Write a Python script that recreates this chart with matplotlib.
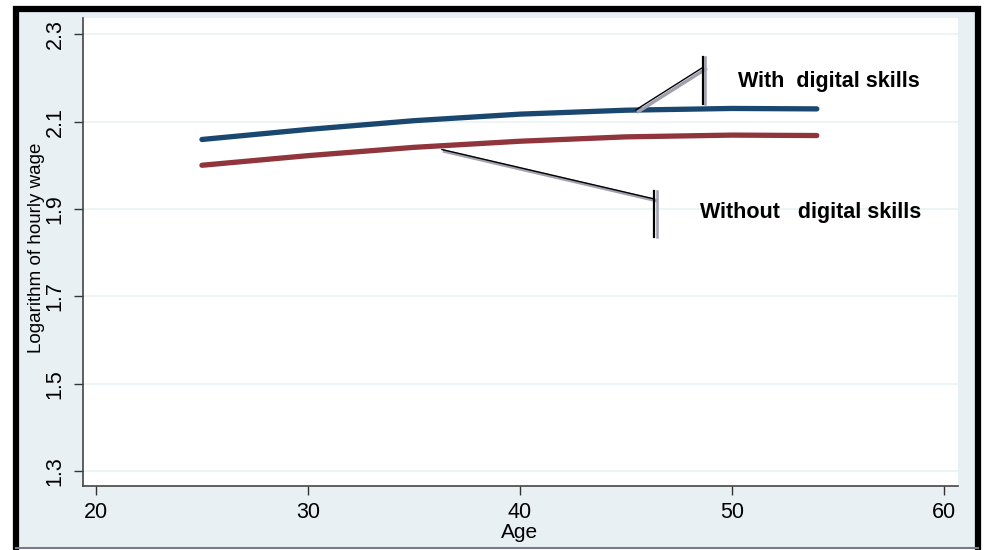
import matplotlib
matplotlib.use("Agg")
import matplotlib.pyplot as plt
from matplotlib.patches import Rectangle
from matplotlib.lines import Line2D

plt.rcParams['font.family'] = ['Liberation Sans', 'DejaVu Sans']

ages = [25, 30, 35, 40, 45, 50, 54]
with_skills = [2.059, 2.082, 2.102, 2.117, 2.126, 2.130, 2.129]
without_skills = [2.000, 2.022, 2.041, 2.055, 2.065, 2.069, 2.068]
xticks = [20, 30, 40, 50, 60]
yticks = [1.3, 1.5, 1.7, 1.9, 2.1, 2.3]
label_with = "With  digital skills"
label_without = "Without   digital skills"

W, H = 984, 550
fig = plt.figure(figsize=(9.84, 5.5), dpi=100)
fig.patch.set_facecolor('white')
# background panel
L, T, R, B = 16, 9, 978, 548
fig.patches.append(Rectangle((L/W, 1 - B/H), (R-L)/W, (B-T)/H,
                             transform=fig.transFigure, facecolor='#e9f0f4',
                             edgecolor='none', zorder=-10))
fig.lines.append(Line2D([L/W, L/W, R/W, R/W], [1 - B/H, 1 - T/H, 1 - T/H, 1 - B/H],
                        transform=fig.transFigure, color='black', lw=4.5,
                        solid_joinstyle='miter', zorder=-5))
fig.lines.append(Line2D([L/W, R/W], [1 - B/H, 1 - B/H], transform=fig.transFigure,
                        color='#7a7a88', lw=1.5, zorder=-5))

ax = fig.add_axes([83/W, (H-486)/H, (958-83)/W, (486-18)/H])
ax.set_zorder(1)
ax.set_facecolor('white')
ax.set_xlim(19.39, 60.66)
ax.set_ylim(1.266, 2.337)

ax.plot(ages, with_skills, color='#1a476f', lw=3.8, solid_capstyle='round', zorder=3)
ax.plot(ages, without_skills, color='#90353b', lw=3.8, solid_capstyle='round', zorder=3)

ax.set_xticks(xticks)
ax.set_yticks(yticks)
ax.set_yticklabels([f"{v:.1f}" for v in yticks], rotation=90, va='center')
ax.tick_params(axis='both', labelsize=15.5, color='#333333', length=6.5, width=1)
ax.tick_params(axis='x', pad=5)
ax.tick_params(axis='y', pad=6)
ax.grid(axis='y', color='#eaf2f3', lw=1.2)
ax.set_axisbelow(True)
for s in ['top', 'right']:
    ax.spines[s].set_visible(False)
for s in ['left', 'bottom']:
    ax.spines[s].set_color('#444444')
    ax.spines[s].set_linewidth(1.2)

ax.set_xlabel("Age", fontsize=15)
ax.xaxis.set_label_coords(0.499, -0.100)
ax.xaxis.label.set_va('center')
ax.set_ylabel("Logarithm of hourly wage", fontsize=13.5)
ax.yaxis.set_label_coords(-0.053, 0.508)
ax.yaxis.label.set_va('center')
ax.yaxis.label.set_ha('center')

# leader lines (with shadow)
def leader(x0, y0, x1, y1, ybar0, ybar1):
    off = 0.12
    ax.plot([x0 + off, x1 + off], [y0 - 0.004, y1 - 0.004], color='#a0a0b0', lw=2.4, zorder=4)
    ax.plot([x0, x1], [y0, y1], color='black', lw=1.0, zorder=5)
    ax.plot([x1 + 0.12, x1 + 0.12], [ybar0, ybar1], color='#a0a0b0', lw=1.8, zorder=4)
    ax.plot([x1, x1], [ybar0, ybar1], color='black', lw=1.6, zorder=5)

leader(45.47, 2.127, 48.63, 2.224, 2.247, 2.141)
leader(36.32, 2.036, 46.32, 1.923, 1.942, 1.836)

fig.text(738/W, 1 - 82/H, label_with, fontsize=15.5, fontweight='bold', va='center', ha='left')
fig.text(700/W, 1 - 213/H, label_without, fontsize=15.5, fontweight='bold', va='center', ha='left')

fig.savefig("out.png", dpi=100)
